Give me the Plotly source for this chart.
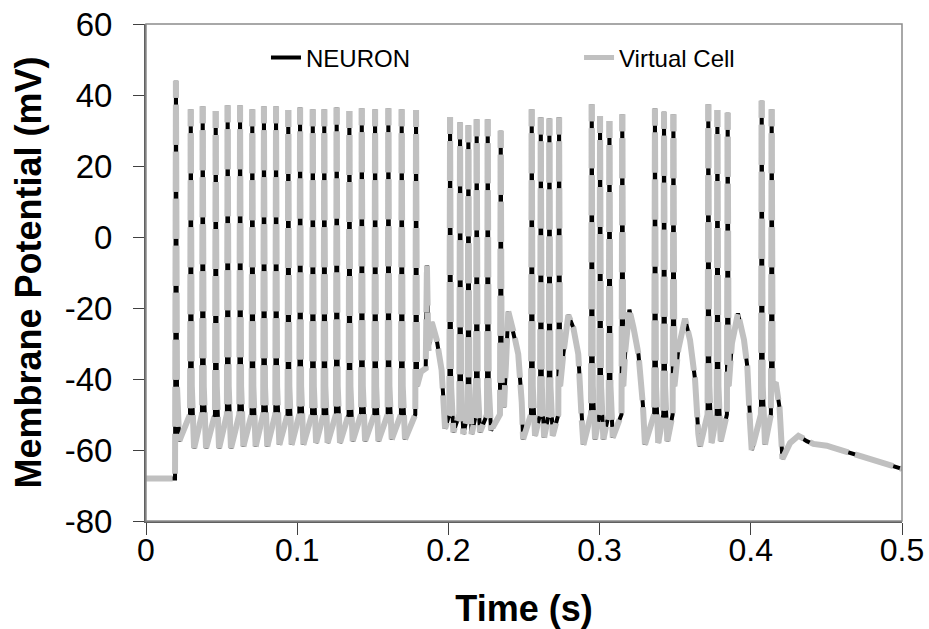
import plotly.graph_objects as go

# ----- spikes: time (s), peak (mV), trough after spike (mV)
# ----- None means the trace runs into a slow wave instead of a plain trough
spike_t = [0.0198, 0.0296, 0.0375, 0.0461, 0.0540, 0.0622, 0.0703, 0.0780, 0.0860, 0.0941,
           0.1019, 0.1103, 0.1179, 0.1261, 0.1345, 0.1427, 0.1515, 0.1603, 0.1691, 0.1786,
           0.2011, 0.2077, 0.2132, 0.2187, 0.2260, 0.2346,
           0.2551, 0.2611, 0.2668, 0.2732,
           0.2948, 0.3003, 0.3065, 0.3150,
           0.3366, 0.3426, 0.3488,
           0.3719, 0.3779, 0.3847,
           0.4072, 0.4138]
spike_peak = [44.0, 36.0, 36.8, 35.5, 37.1, 37.1, 36.0, 36.8, 36.8, 35.8,
              36.5, 36.0, 36.0, 36.5, 35.5, 36.3, 36.0, 36.3, 36.0, 35.8,
              33.8, 32.3, 31.5, 33.2, 33.2, 29.9,
              36.0, 33.7, 33.4, 33.7,
              37.4, 34.1, 32.7, 34.6,
              36.2, 35.3, 34.6,
              37.4, 35.8, 35.0,
              38.4, 36.0]
spike_trough = [-57.5, -59.5, -59.5, -59.5, -59.5, -59, -59, -59, -58.5, -58.5,
                -58.5, -58, -58, -58, -57.5, -57.5, -57.5, -57, -57, None,
                -55, -55.5, -55.5, -55, -54.5, None,
                -56, -56.5, -56, None,
                -57, -57, -56.5, None,
                -58, -57.5, None,
                -58, -57.5, None,
                -58.5, None]
spike_base = -50      # level where the fast upstroke starts
spike_knee = -42      # level where the downstroke bends

# ----- slow parts: resting level, small spike, humps between bursts, tail
slow_t = [0.0, 0.0192,
          0.1818, 0.1850, 0.1858, 0.1868, 0.1890, 0.1923, 0.1955, 0.1966, 0.1978,
          0.2368, 0.2396, 0.2429, 0.2462, 0.2485, 0.2494,
          0.2760, 0.2793, 0.2826, 0.2859, 0.2881, 0.2893,
          0.3170, 0.3197, 0.3224, 0.3257, 0.3286, 0.3300,
          0.3521, 0.3565, 0.3598, 0.3631, 0.3653, 0.3664,
          0.3875, 0.3915, 0.3955, 0.3977, 0.3993, 0.4006,
          0.4165, 0.4190, 0.4209, 0.4260, 0.4315, 0.4370, 0.4414, 0.4503, 0.4750, 0.5000]
slow_v = [-68, -68,
          -38, -37, -8, -32, -24, -29, -37.5, -45, -54,
          -48, -21, -26.5, -33, -46.5, -57,
          -33, -22, -25.5, -33, -51, -58.5,
          -32, -20.5, -25.5, -33, -47, -58.5,
          -31.5, -23, -29, -40, -55.5, -59,
          -30, -21.5, -29, -36.5, -51, -60,
          -41, -48, -62.5, -58, -56, -57.5, -58.3, -58.8, -62, -65.3]

series_names = ['NEURON', 'Virtual Cell']
x_ticks = [0, 0.1, 0.2, 0.3, 0.4, 0.5]
x_labels = ['0', '0.1', '0.2', '0.3', '0.4', '0.5']
y_ticks = [-80, -60, -40, -20, 0, 20, 40, 60]
y_labels = ['-80', '-60', '-40', '-20', '0', '20', '40', '60']

# ----- put the trace together
pts = [(t, v, False) for t, v in zip(slow_t, slow_v)]
for t, pk, tr in zip(spike_t, spike_peak, spike_trough):
    pts += [(t - 0.0005, spike_base, False), (t, pk, True), (t + 0.0007, spike_knee, False)]
    if tr is not None:
        pts.append((t + 0.0022, tr, False))
pts.sort(key=lambda p: p[0])
time = [p[0] for p in pts]
vm = [p[1] for p in pts]
peaks = [i for i, p in enumerate(pts) if p[2]]

# ----- dashed copy split at every peak, so the dash pattern starts at the tip
# ----- on both the rising and the falling stroke (like the original chart)
pieces = [list(range(peaks[0], -1, -1))]
for a, b in zip(peaks[:-1], peaks[1:]):
    pieces.append(list(range(a, b - 1)))
    pieces.append([b, b - 1, b - 2])
pieces.append(list(range(peaks[-1], len(pts))))
gx, gy = [], []
for piece in pieces:
    gx += [time[i] for i in piece] + [None]
    gy += [vm[i] for i in piece] + [None]

FONT = 'Liberation Sans, Arial, sans-serif'

fig = go.Figure()
fig.add_trace(go.Scatter(x=time, y=vm, mode='lines', name=series_names[0],
                         line=dict(color='black', width=4), legend='legend'))
fig.add_trace(go.Scatter(x=gx, y=gy, mode='lines', name=series_names[1], showlegend=False,
                         connectgaps=False,
                         line=dict(color='#c0c0c0', width=6, dash='17px,7px,23px,0px')))
# legend sample for Virtual Cell (solid, as in the original key)
fig.add_trace(go.Scatter(x=[None], y=[None], mode='lines', name=series_names[1],
                         line=dict(color='#c0c0c0', width=5), legend='legend2'))

fig.update_layout(
    width=929, height=629, autosize=False, showlegend=True,
    margin=dict(l=146, r=27, t=24, b=108),
    paper_bgcolor='white', plot_bgcolor='white',
    font=dict(family=FONT, color='black'),
    legend=dict(x=0.1587, y=0.9316, xanchor='left', yanchor='middle',
                bgcolor='rgba(0,0,0,0)', font=dict(size=24)),
    legend2=dict(x=0.5728, y=0.9316, xanchor='left', yanchor='middle',
                 bgcolor='rgba(0,0,0,0)', font=dict(size=24)),
    shapes=[dict(type='rect', xref='paper', yref='paper', x0=0, y0=0, x1=1, y1=1,
                 line=dict(color='#8c8c8c', width=1.5))],
)
fig.update_xaxes(range=[0, 0.5], tickmode='array', tickvals=x_ticks, ticktext=x_labels,
                 ticks='outside', ticklen=12, tickcolor='#404040', automargin=False,
                 showline=True, linecolor='#606060', linewidth=2,
                 showgrid=False, zeroline=False, ticklabeloverflow='allow',
                 tickfont=dict(size=32), ticklabelstandoff=-12,
                 title=dict(text='<b>Time (s)</b>', font=dict(size=36), standoff=28))
fig.update_yaxes(range=[-80, 60], tickmode='array', tickvals=y_ticks, ticktext=y_labels,
                 ticks='outside', ticklen=11, tickcolor='#404040', automargin=False,
                 showline=True, linecolor='#606060', linewidth=2,
                 showgrid=False, zeroline=False, ticklabeloverflow='allow',
                 tickfont=dict(size=33), ticklabelstandoff=14,
                 title=dict(text='<b>Membrane Potential (mV)</b>', font=dict(size=36), standoff=12))

# --- drop the page's default 8px body margin so the chart fills the window
fig.write_html('out.html', config={'displayModeBar': False},
               post_script="document.body.style.margin='0';")
